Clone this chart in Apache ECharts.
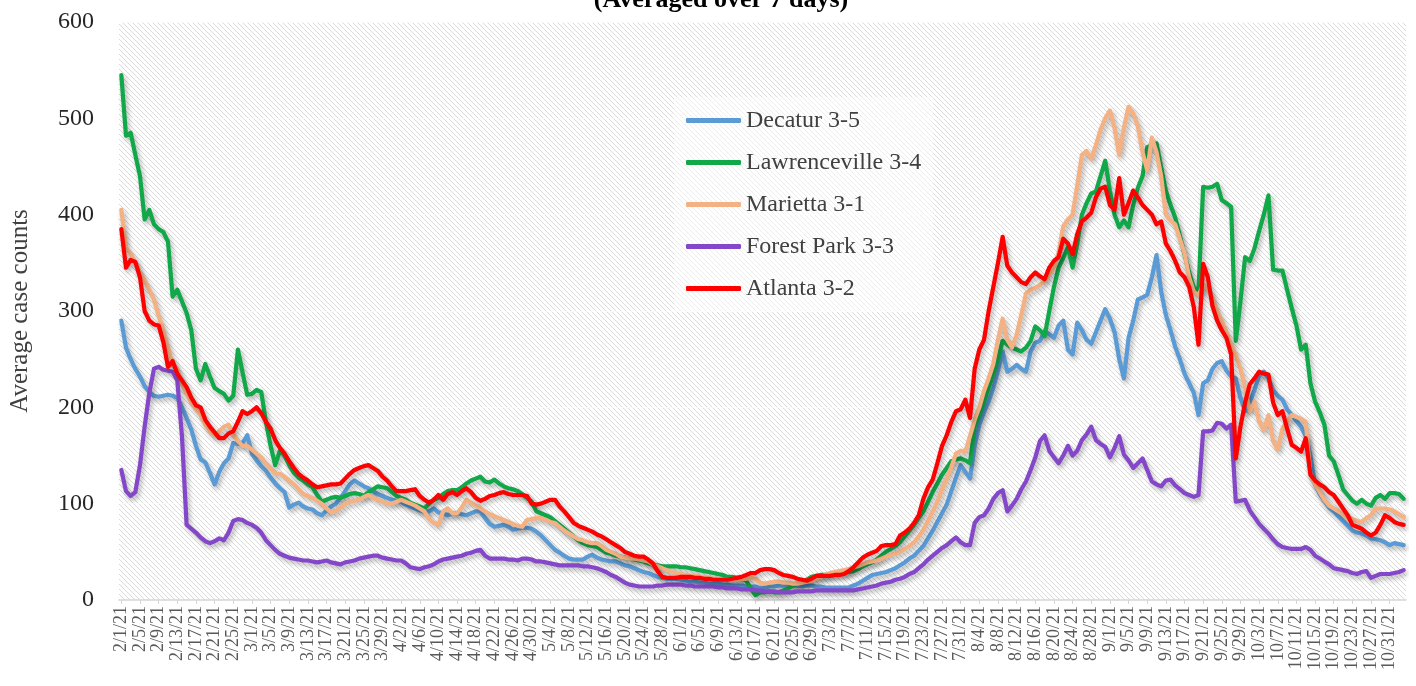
<!DOCTYPE html>
<html>
<head>
<meta charset="utf-8">
<title>Average case counts</title>
<script src="https://cdn.jsdelivr.net/npm/echarts@6/dist/echarts.min.js"></script>
<style>
  html, body { margin: 0; padding: 0; background: #fff; }
  #main { width: 1416px; height: 686px; }
</style>
</head>
<body>
<div id="main"></div>
<script>
// daily categories, 2/1/21 .. 11/3/21
const dayCount = 276
const dates = []
for (let i = 0; i < dayCount; i++) {
  const d = new Date(2021, 1, 1 + i)
  dates.push((d.getMonth() + 1) + '/' + d.getDate() + '/21')
}

const names = ['Decatur 3-5', 'Lawrenceville 3-4', 'Marietta 3-1', 'Forest Park 3-3', 'Atlanta 3-2']
const colors = ['#5B9BD5', '#11A84A', '#F4B183', '#8547C9', '#FF0000']

// values, one per day
const decatur = [
  290, 262, 250, 240, 232, 222, 216, 212, 211, 212,
  213, 212, 210, 200, 189, 177, 160, 146, 143, 132,
  120, 133, 142, 147, 163, 162, 163, 171, 152, 145,
  139, 134, 127, 121, 116, 112, 96, 99, 101, 97,
  95, 94, 90, 88, 93, 97, 100, 106, 113, 120,
  124, 121, 118, 116, 113, 110, 108, 106, 104, 103,
  102, 99, 97, 95, 93, 92, 92, 95, 91, 90,
  88, 90, 90, 89, 88, 90, 92, 92, 85, 79,
  76, 77, 78, 76, 73, 74, 75, 75, 74, 71,
  67, 62, 57, 52, 49, 46, 43, 42, 42, 42,
  45, 47, 44, 42, 41, 40, 40, 38, 36, 35,
  33, 31, 29, 28, 26, 24, 23, 22, 22, 22,
  21, 20, 19, 19, 18, 18, 17, 17, 17, 16,
  16, 15, 15, 15, 14, 14, 14, 12, 13, 14,
  14, 15, 15, 15, 15, 15, 14, 15, 15, 14,
  14, 13, 13, 13, 13, 13, 13, 15, 17, 20,
  23, 26, 27, 28, 29, 31, 33, 36, 39, 43,
  46, 51, 56, 64, 72, 81, 90, 99, 113, 127,
  140, 133, 126, 160, 182, 195, 206, 220, 238, 258,
  237, 240, 244, 240, 237, 258, 267, 269, 279, 276,
  272, 285, 290, 260, 255, 288, 280, 270, 266, 278,
  290, 302, 292, 278, 250, 230, 272, 290, 312, 314,
  317, 335, 358, 320, 296, 280, 263, 250, 235, 225,
  215, 192, 225, 228, 240, 246, 248, 238, 232, 230,
  210, 196, 205, 218, 233, 237, 230, 218, 212, 208,
  198, 192, 186, 180, 170, 150, 120, 110, 103, 96,
  92, 87, 82, 77, 72, 70, 69, 67, 64, 63,
  62, 60, 57, 59, 58, 57
]

const lawrenceville = [
  545, 482, 485, 462, 440, 395, 405, 390, 385, 382,
  372, 315, 322, 310, 298, 280, 240, 228, 245, 232,
  220, 217, 214, 207, 212, 260, 236, 213, 214, 218,
  216, 185, 160, 140, 155, 150, 140, 132, 127, 124,
  120, 117, 109, 102, 104, 106, 107, 106, 108, 110,
  111, 110, 108, 112, 115, 118, 117, 116, 112, 108,
  106, 104, 101, 99, 97, 95, 100, 104, 106, 110,
  113, 114, 114, 117, 121, 124, 126, 128, 123, 122,
  125, 121, 118, 116, 115, 113, 110, 106, 102, 92,
  90, 88, 86, 82, 78, 74, 70, 66, 62, 59,
  57, 56, 55, 52, 49, 48, 46, 45, 44, 43,
  42, 41, 40, 38, 37, 36, 35, 35, 35, 35,
  34, 34, 33, 32, 31, 30, 29, 28, 27, 26,
  24, 24, 23, 23, 20, 12, 5, 8, 8, 9,
  8, 8, 10, 12, 15, 17, 19, 21, 24, 25,
  26, 26, 27, 27, 28, 28, 29, 30, 32, 35,
  37, 39, 42, 46, 50, 53, 56, 60, 66, 72,
  78, 85, 92, 102, 112, 121, 130, 137, 144, 146,
  147, 145, 142, 180, 192, 205, 220, 235, 250, 269,
  265, 262, 260, 258, 262, 269, 284, 280, 274, 300,
  325, 345, 355, 366, 345, 370, 400, 412, 422, 424,
  440, 456, 425, 400, 387, 394, 387, 410, 428, 440,
  470, 472, 474, 449, 425, 410, 397, 378, 359, 340,
  324, 321, 429, 428, 429, 432, 415, 412, 408, 269,
  310, 356, 352, 365, 383, 400, 420, 343, 342, 342,
  322, 303, 285, 260, 265, 225, 206, 195, 182, 150,
  144, 130, 115, 109, 103, 100, 104, 100, 98, 106,
  109, 105, 111, 111, 110, 105
]

const marietta = [
  405, 365, 360, 350, 340, 332, 322, 312, 295, 280,
  262, 245, 240, 225, 214, 205, 198, 192, 182, 175,
  171, 175, 180, 182, 172, 165, 160, 160, 156, 152,
  148, 142, 137, 131, 131, 128, 124, 120, 115, 110,
  108, 106, 103, 100, 95, 91, 92, 96, 100, 102,
  103, 104, 107, 109, 106, 104, 102, 100, 100, 102,
  104, 102, 100, 98, 95, 92, 84, 80, 78, 92,
  95, 90, 90, 96, 104, 101, 98, 95, 92, 89,
  87, 85, 83, 81, 79, 77, 76, 83, 84, 85,
  85, 83, 81, 80, 76, 72, 69, 66, 63, 62,
  60, 59, 59, 56, 52, 50, 48, 45, 44, 43,
  43, 42, 41, 40, 37, 35, 33, 31, 29, 28,
  27, 26, 25, 25, 24, 23, 23, 22, 22, 21,
  21, 21, 21, 22, 22, 23, 22, 18, 17, 18,
  19, 19, 18, 18, 17, 17, 18, 19, 20, 22,
  24, 26, 28, 29, 30, 31, 32, 34, 35, 37,
  39, 40, 41, 43, 45, 47, 48, 50, 53, 56,
  60, 66, 73, 82, 92, 102, 115, 126, 138, 152,
  155, 154, 170, 187, 200, 217, 230, 245, 270, 292,
  270, 262, 275, 296, 318, 322, 324, 327, 331, 338,
  345, 360, 388, 395, 400, 430, 462, 466, 458, 472,
  488, 500, 508, 490, 462, 490, 512, 505, 492, 465,
  446, 480, 465, 440, 400, 394, 390, 375, 360, 335,
  320, 316, 328, 322, 314, 300, 290, 278, 265, 255,
  240, 220, 196, 206, 185, 176, 192, 165, 156, 178,
  185, 192, 190, 188, 185, 130, 120, 112, 104, 98,
  95, 92, 89, 86, 84, 82, 81, 85, 88, 95,
  95, 95, 94, 92, 89, 86
]

const forestPark = [
  135, 113, 108, 112, 140, 180, 215, 240, 242, 239,
  238, 237, 228, 170, 78, 74, 70, 65, 61, 59,
  61, 64, 62, 70, 82, 84, 83, 80, 78, 75,
  70, 62, 57, 52, 48, 46, 44, 43, 42, 41,
  41, 40, 39, 40, 41, 39, 38, 37, 39, 40,
  41, 43, 44, 45, 46, 46, 44, 43, 42, 41,
  41, 38, 34, 33, 32, 34, 35, 37, 40, 42,
  43, 44, 45, 46, 48, 49, 51, 52, 46, 43,
  43, 43, 43, 42, 42, 41, 43, 43, 42, 40,
  40, 39, 38, 37, 36, 36, 36, 36, 36, 35,
  35, 34, 33, 31, 29, 26, 24, 21, 18, 16,
  15, 14, 14, 14, 14, 15, 15, 16, 16, 16,
  16, 15, 15, 14, 14, 14, 14, 14, 13, 13,
  12, 12, 12, 11, 11, 11, 10, 10, 9, 9,
  9, 8, 8, 8, 8, 9, 9, 9, 9, 10,
  10, 10, 10, 10, 10, 10, 10, 10, 11, 12,
  13, 14, 15, 17, 18, 19, 21, 22, 24, 27,
  29, 33, 37, 42, 46, 50, 54, 57, 61, 65,
  60, 57, 57, 80, 86, 88, 95, 105, 111, 114,
  92, 98, 105, 115, 123, 135, 148, 165, 171, 155,
  148, 142, 150, 160, 150, 155, 166, 172, 180, 166,
  162, 159, 148, 158, 170, 151, 145, 137, 142, 147,
  135, 123, 120, 118, 124, 125, 119, 115, 111, 109,
  107, 109, 175, 175, 176, 184, 183, 178, 182, 102,
  103, 104, 93, 86, 79, 74, 69, 63, 58, 55,
  54, 53, 53, 53, 55, 52, 46, 43, 40, 37,
  33, 32, 31, 30, 28, 27, 29, 30, 23, 25,
  27, 27, 27, 28, 29, 31
]

const atlanta = [
  385, 345, 353, 351, 335, 300, 290, 286, 285, 268,
  242, 248, 235, 228, 221, 210, 202, 200, 187, 180,
  174, 168, 168, 173, 175, 185, 196, 193, 196, 200,
  194, 185, 178, 166, 158, 152, 144, 137, 131, 127,
  124, 120, 117, 118, 119, 120, 120, 121, 126, 131,
  135, 137, 139, 140, 137, 134, 128, 124, 118, 113,
  113, 113, 114, 115, 108, 104, 101, 104, 109, 104,
  110, 112, 109, 113, 116, 112, 106, 103, 105, 108,
  109, 111, 112, 110, 109, 109, 109, 108, 100, 99,
  100, 102, 104, 104, 97, 92, 86, 80, 77, 75,
  73, 71, 68, 66, 63, 60, 57, 54, 50, 48,
  46, 45, 45, 42, 38, 30, 24, 23, 23, 23,
  24, 24, 24, 23, 23, 22, 22, 21, 21, 21,
  21, 22, 23, 24, 26, 28, 28, 31, 32, 32,
  31, 28, 26, 25, 24, 22, 21, 20, 22, 25,
  25, 25, 25, 26, 26, 27, 30, 34, 39, 44,
  47, 49, 51, 56, 57, 57, 58, 67, 70, 74,
  80, 88, 105, 117, 125, 142, 160, 171, 185, 196,
  198, 208, 189, 240, 260, 270, 300, 325, 350, 377,
  347, 340, 335, 330, 328, 335, 340, 336, 333, 345,
  352, 356, 375, 370, 359, 380, 393, 397, 402, 418,
  427, 429, 410, 405, 438, 400, 412, 425, 418, 410,
  405, 400, 390, 393, 370, 362, 352, 340, 335, 325,
  304, 265, 349, 335, 305, 290, 280, 272, 255, 147,
  180, 205, 224, 230, 237, 235, 234, 205, 192, 196,
  178, 161, 158, 154, 168, 130, 124, 120, 117, 112,
  109, 102, 95, 88, 78, 76, 74, 70, 67, 70,
  78, 88, 85, 81, 79, 78
]

const seriesData = [decatur, lawrenceville, marietta, forestPark, atlanta]
seriesData.forEach((arr, i) => {
  if (arr.length !== dayCount) console.error(names[i] + ' has ' + arr.length + ' values')
})

// diagonal hatch used as plot background
function hatchPattern () {
  const s = 5
  const c = document.createElement('canvas')
  c.width = s
  c.height = s
  const ctx = c.getContext('2d')
  ctx.fillStyle = '#ffffff'
  ctx.fillRect(0, 0, s, s)
  ctx.strokeStyle = '#dadada'
  ctx.lineWidth = 1
  ;[-s, 0, s].forEach((k) => {
    ctx.beginPath()
    ctx.moveTo(k, 0)
    ctx.lineTo(k + s, s)
    ctx.stroke()
  })
  return c
}

const serif = 'Liberation Serif'

const chart = echarts.init(document.getElementById('main'))

const option = {
  animation: false,
  backgroundColor: '#ffffff',
  textStyle: { fontFamily: serif },
  graphic: [
    {
      type: 'text',
      x: 721,
      y: -13,
      silent: true,
      style: {
        text: '(Averaged over 7 days)',
        fontFamily: serif,
        fontSize: 26,
        fontWeight: 'bold',
        fill: '#000000',
        textAlign: 'center',
        align: 'center',
        textVerticalAlign: 'top',
        verticalAlign: 'top'
      }
    }
  ],
  grid: {
    left: 118,
    right: 10,
    top: 22,
    bottom: 86,
    show: true,
    borderWidth: 0,
    backgroundColor: { image: hatchPattern(), repeat: 'repeat' }
  },
  legend: {
    orient: 'vertical',
    left: 674,
    top: 97,
    padding: [11, 12, 11, 12],
    backgroundColor: 'rgba(255,255,255,0.5)',
    itemWidth: 55,
    itemHeight: 5,
    itemGap: 17,
    icon: 'roundRect',
    textStyle: { fontSize: 24, lineHeight: 25, color: '#404040', fontFamily: serif },
    data: names
  },
  xAxis: {
    type: 'category',
    data: dates,
    boundaryGap: true,
    axisLine: { lineStyle: { color: '#d6d6d6', width: 1.5 } },
    axisTick: { show: true, interval: 3, alignWithLabel: true, length: 4, lineStyle: { color: '#d6d6d6' } },
    axisLabel: { interval: 3, rotate: 90, fontSize: 18, color: '#595959', fontFamily: serif, margin: 6 },
    splitLine: { show: false }
  },
  yAxis: {
    type: 'value',
    min: 0,
    max: 600,
    interval: 100,
    name: 'Average case counts',
    nameLocation: 'middle',
    nameGap: 86,
    nameTextStyle: { fontSize: 25, color: '#404040', fontFamily: serif },
    axisLine: { show: false },
    axisTick: { show: false },
    axisLabel: { fontSize: 24, color: '#262626', margin: 25, fontFamily: serif },
    splitLine: { show: true, lineStyle: { color: 'rgba(255,255,255,0.6)', width: 1 } }
  },
  series: names.map((name, i) => ({
    name: name,
    type: 'line',
    data: seriesData[i],
    symbol: 'none',
    showSymbol: false,
    emphasis: { disabled: true },
    itemStyle: { color: colors[i] },
    lineStyle: {
      color: colors[i],
      width: 4.2,
      cap: 'round',
      join: 'round',
      shadowColor: 'rgba(0,0,0,0.3)',
      shadowBlur: 5,
      shadowOffsetX: 2,
      shadowOffsetY: 3
    }
  }))
}

chart.setOption(option)
</script>
</body>
</html>
